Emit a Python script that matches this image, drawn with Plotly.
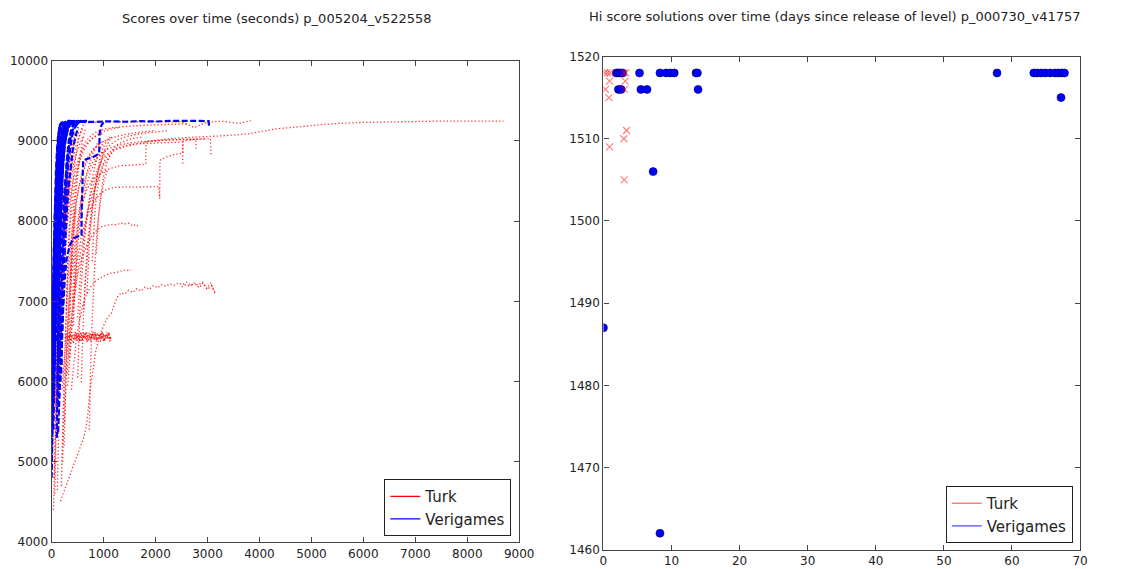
import plotly.graph_objects as go

# ---------------- Left panel: score trajectories (seconds) ----------------
turk_times = [
    [310, 360, 420, 500, 600, 700, 850, 1000, 1200, 1500, 1900, 2300, 2800, 3300, 3800, 4300, 4800, 5400, 6000, 6700, 7400, 8000, 8700],
    [170, 220, 290, 370, 450, 530, 610, 660, 700, 740, 790, 850, 920, 1000, 1070, 1146, 1200, 1260, 1339, 1400, 1480, 1560, 1640, 1720, 1800, 1880, 1960, 2040, 2120, 2200, 2280, 2360, 2440, 2520, 2600, 2680, 2760, 2840, 2920, 3000, 3080, 3140],
    [2500, 2580, 2660, 2740, 2820, 2900, 2980, 3060, 3140],
    [200, 230, 260, 280, 310, 340, 370, 400, 430, 460, 490, 520, 550, 580, 610, 640, 670, 700, 730, 760, 790, 820, 850, 880, 910, 940, 970, 1000, 1030, 1060, 1090, 1120, 1140],
    [290, 325, 355, 385, 415, 445, 475, 505, 535, 565, 595, 625, 655, 685, 715, 745, 775, 805, 835, 865, 895, 925, 955, 985, 1015, 1045, 1075, 1105, 1135],
    [420, 440, 460, 480, 500, 520, 540, 560, 580, 600, 620, 640, 660, 680, 700, 720, 740, 760, 780, 800, 820, 840, 860, 880, 900, 920, 940, 960, 980, 1000, 1020, 1040, 1060, 1080, 1100, 1120, 1140],
    [35, 45, 55, 65, 80, 95, 110, 130, 150, 175, 200, 230, 260, 300, 350, 410],
    [60, 70, 85, 100, 120, 140, 165, 190, 220, 250, 290, 340],
    [110, 120, 130, 145, 160, 180, 205, 235, 270, 310, 360, 420, 500, 600],
    [20, 30, 45, 60, 80, 105, 135, 170, 210, 260],
    [190, 200, 215, 230, 250, 270, 300, 340, 390, 450, 520, 600, 700, 820, 950],
    [240, 255, 275, 300, 330, 365, 405, 450, 500, 560, 630, 710, 800, 900],
    [500, 510, 525, 545, 570, 600, 640, 690, 750, 820, 900, 1000],
    [570, 580, 595, 615, 640, 670, 710, 760, 820, 890, 970, 1060, 1160],
    [725, 735, 750, 770, 795, 825, 860, 900, 950, 1010, 1080],
    [300, 340, 390, 450, 520, 600, 690, 780, 870, 960, 1060, 1160, 1260, 1330, 1400, 1480, 1560, 1620, 1680],
    [380, 420, 470, 530, 600, 680, 770, 860, 950, 1040, 1130, 1220, 1300, 1375, 1450, 1530],
    [350, 390, 440, 500, 570, 650, 740, 840, 950, 1070, 1200, 1290, 1450, 1600, 1750, 1900, 2063, 2080, 2085, 2200, 2350, 2525, 2530, 2650, 2800, 2950],
    [450, 500, 570, 650, 750, 870, 1000, 1150, 1300, 1500, 1700, 1900, 2100, 2300, 2500, 2700, 2900, 3060, 3064],
    [400, 440, 500, 580, 680, 800, 950, 1100, 1300, 1500, 1700, 1811, 1815, 2000, 2200, 2400, 2600, 2775, 2778],
    [260, 290, 330, 380, 440, 510, 590, 630, 800, 1000, 1300, 1600, 1900, 2200, 2500, 2745, 3000, 3300, 3600, 3830],
    [500, 560, 640, 740, 860, 1000, 1200, 1400, 1600, 1800, 2000, 2200, 2400, 2520, 2525],
    [150, 170, 195, 225, 260, 300, 350, 410, 480, 560, 650, 750, 860, 980],
    [280, 300, 325, 355, 390, 430, 480, 540, 610, 690, 780, 880, 1000, 1150, 1300],
    [330, 345, 365, 390, 420, 455, 495, 540, 590, 650],
    [420, 435, 455, 480, 510, 545, 585, 630, 680, 740, 810, 900, 1000],
    [620, 640, 665, 695, 730, 770, 815, 865, 920, 980, 1050, 1130],
    [60, 75, 95, 120, 150, 185, 225, 270, 320, 380, 450],
    [90, 100, 115, 135, 160, 190, 225, 265, 310],
    [210, 225, 245, 270, 300, 335, 375, 420, 470],
    [50, 60, 70, 85, 100, 120, 145],
    [780, 800, 830, 870, 920, 980, 1050, 1120],
    [130, 140, 152, 168, 188, 212, 240, 272, 308, 350, 400, 460, 530],
    [250, 262, 278, 298, 322, 350, 382, 420, 465, 520, 590, 680, 800, 950, 1150, 1400, 1700, 2000],
    [680, 700, 725, 755, 790, 830, 875, 925, 980, 1040, 1110, 1200, 1320, 1480, 1700, 1950, 2250],
    [860, 880, 905, 935, 970, 1010, 1060, 1120, 1190, 1280, 1400, 1550, 1750],
    [160, 175, 195, 220, 250, 285, 325, 370, 420, 475, 535, 600],
    [75, 85, 98, 115, 135, 160, 190, 225, 265],
    [360, 375, 395, 420, 450, 485, 525, 570, 620, 680, 750, 830, 920, 1020, 1150, 1300, 1500, 1750, 2000, 2300, 2600],
]
turk_scores = [
    [5950, 6400, 6900, 7400, 7800, 8150, 8450, 8700, 8880, 8950, 9000, 9030, 9050, 9065, 9090, 9150, 9180, 9215, 9232, 9243, 9247, 9248, 9248],
    [4510, 4600, 4730, 4880, 5020, 5160, 5290, 5420, 5620, 5900, 6150, 6380, 6560, 6700, 6790, 6851, 6950, 7050, 7106, 7090, 7140, 7110, 7160, 7130, 7180, 7150, 7200, 7170, 7210, 7190, 7220, 7200, 7230, 7210, 7240, 7200, 7220, 7170, 7230, 7150, 7200, 7120],
    [7180, 7210, 7190, 7230, 7200, 7240, 7160, 7230, 7100],
    [5900, 6200, 6450, 6580, 6520, 6610, 6500, 6590, 6530, 6620, 6510, 6600, 6540, 6500, 6610, 6560, 6620, 6500, 6580, 6530, 6610, 6520, 6600, 6510, 6590, 6540, 6620, 6500, 6580, 6530, 6610, 6520, 6560],
    [6600, 6510, 6590, 6560, 6500, 6620, 6540, 6580, 6500, 6610, 6530, 6600, 6520, 6560, 6610, 6500, 6590, 6540, 6620, 6510, 6570, 6600, 6530, 6610, 6500, 6590, 6550, 6620, 6510],
    [6480, 6560, 6520, 6610, 6540, 6590, 6500, 6620, 6550, 6510, 6600, 6530, 6620, 6490, 6580, 6540, 6610, 6500, 6570, 6620, 6520, 6590, 6500, 6610, 6540, 6580, 6500, 6620, 6530, 6600, 6510, 6570, 6620, 6540, 6590, 6500, 6550],
    [4400, 4700, 5000, 5300, 5600, 5900, 6200, 6500, 6800, 7100, 7400, 7700, 8000, 8300, 8600, 8850],
    [4600, 5000, 5400, 5800, 6200, 6600, 7000, 7350, 7700, 8000, 8300, 8550],
    [4650, 5000, 5400, 5800, 6200, 6600, 7000, 7400, 7800, 8150, 8450, 8700, 8900, 9050],
    [5000, 5500, 6000, 6400, 6800, 7200, 7600, 7950, 8250, 8500],
    [4700, 5100, 5500, 5900, 6300, 6700, 7100, 7500, 7850, 8150, 8400, 8600, 8780, 8900, 8980],
    [5200, 5600, 6000, 6400, 6800, 7150, 7450, 7750, 8000, 8250, 8480, 8680, 8850, 9000],
    [6050, 6300, 6600, 6900, 7200, 7500, 7800, 8100, 8400, 8650, 8850, 9000],
    [5990, 6250, 6550, 6850, 7150, 7450, 7750, 8050, 8350, 8600, 8800, 8950, 9050],
    [5400, 5800, 6200, 6600, 7000, 7400, 7750, 8050, 8300, 8500, 8650],
    [6100, 6500, 6850, 7150, 7400, 7580, 7720, 7820, 7890, 7930, 7950, 7960, 7955, 7980, 7965, 7975, 7940, 7960, 7930],
    [5900, 6200, 6500, 6750, 6950, 7100, 7200, 7260, 7300, 7330, 7350, 7360, 7370, 7390, 7385, 7395],
    [6300, 6800, 7200, 7550, 7800, 8000, 8150, 8270, 8350, 8400, 8420, 8425, 8428, 8425, 8430, 8428, 8432, 8280, 8760, 8800, 8830, 8850, 9000, 9015, 9020, 9025],
    [7200, 7700, 8100, 8400, 8620, 8780, 8870, 8920, 8950, 8975, 8990, 9000, 9010, 9015, 9020, 9025, 9030, 9030, 8835],
    [7000, 7500, 7900, 8200, 8400, 8530, 8600, 8650, 8690, 8700, 8710, 8711, 8996, 9005, 9010, 9015, 9018, 9020, 8900],
    [6500, 7200, 7800, 8300, 8700, 9000, 9180, 9225, 9235, 9238, 9240, 9236, 9242, 9240, 9238, 9168, 9236, 9245, 9218, 9255],
    [6800, 7400, 7900, 8300, 8600, 8800, 8900, 8940, 8960, 8970, 8975, 8980, 8985, 8985, 8700],
    [6000, 6400, 6800, 7200, 7600, 7950, 8250, 8500, 8700, 8850, 8950, 9020, 9060, 9090],
    [6900, 7300, 7650, 7950, 8200, 8420, 8600, 8750, 8870, 8960, 9030, 9080, 9120, 9150, 9170],
    [6300, 6700, 7100, 7500, 7900, 8250, 8550, 8800, 9000, 9150],
    [6700, 7050, 7400, 7700, 7950, 8150, 8320, 8460, 8580, 8680, 8760, 8820, 8860],
    [6900, 7200, 7500, 7750, 7950, 8150, 8350, 8550, 8750, 8900, 9000, 9050],
    [5600, 6000, 6400, 6800, 7200, 7600, 8000, 8350, 8650, 8900, 9100],
    [5300, 5700, 6100, 6500, 6900, 7300, 7700, 8050, 8350],
    [5000, 5400, 5800, 6200, 6600, 7000, 7400, 7800, 8150],
    [4800, 5100, 5400, 5700, 6000, 6300, 6600],
    [7500, 7800, 8100, 8350, 8550, 8700, 8800, 8850],
    [5800, 6150, 6500, 6850, 7200, 7550, 7900, 8200, 8480, 8720, 8900, 9030, 9120],
    [5500, 5850, 6200, 6550, 6900, 7250, 7600, 7900, 8180, 8420, 8620, 8780, 8900, 8980, 9040, 9080, 9110, 9130],
    [7100, 7400, 7700, 7950, 8180, 8380, 8550, 8690, 8800, 8880, 8940, 8990, 9030, 9060, 9090, 9110, 9130],
    [7600, 7850, 8080, 8280, 8450, 8600, 8720, 8820, 8900, 8960, 9000, 9030, 9050],
    [6500, 6850, 7200, 7550, 7850, 8150, 8400, 8620, 8800, 8950, 9070, 9160],
    [5700, 6100, 6500, 6900, 7300, 7650, 7950, 8250, 8500],
    [7300, 7600, 7900, 8150, 8380, 8580, 8740, 8860, 8950, 9010, 9060, 9100, 9130, 9150, 9165, 9175, 9185, 9195, 9200, 9210, 9215],
]

veri_times = [
    [0, 10, 22, 35, 50, 65, 85, 105, 130, 160, 200, 250, 320, 400, 500, 620],
    [5, 12, 20, 30, 42, 56, 72, 90, 110, 135, 165, 200],
    [0, 5, 12, 20, 30, 40, 52, 66, 82, 100, 122, 150, 185, 230],
    [15, 25, 40, 55, 75, 100, 130, 165, 205, 250, 300, 360],
    [30, 38, 48, 60, 75, 92, 112, 135, 160, 190],
    [0, 8, 18, 30, 45, 62, 82, 105, 130, 158, 190, 228, 272, 322, 380, 450],
    [60, 75, 90, 108, 128, 150, 175, 205, 240, 280, 330, 390, 460, 540, 620, 680],
    [124, 135, 150, 165, 180, 188, 200, 215, 235, 260, 290, 330, 380, 440],
    [100, 105, 112, 120, 130, 142, 158, 178, 200, 225, 255, 290],
    [0, 15, 35, 60, 95, 135, 180, 240, 320, 420, 560, 800, 1100, 1400, 1700, 2000, 2300, 2600, 2850, 3020, 3030],
    [140, 170, 210, 250, 283, 350, 420, 500, 575, 580, 590, 607, 650, 725, 800, 880, 915, 925, 960, 1000],
    [20, 28, 38, 50, 64, 80, 98, 118, 140, 164, 195],
    [0, 6, 14, 24, 36, 50, 66, 84],
    [40, 48, 58, 70, 85, 102, 122, 146, 174, 206, 244, 290],
    [80, 90, 102, 116, 132, 150, 172, 198, 228, 262, 300, 345, 395, 450],
    [0, 4, 9, 16, 25, 36],
    [170, 180, 190, 200, 215, 235, 260, 290, 330, 380, 440],
    [110, 118, 128, 140, 155, 172, 192, 216, 244, 276, 312, 352, 400, 460, 530],
    [50, 56, 64, 74, 86, 100, 116, 134, 154, 176, 200, 228, 260, 300],
    [2, 8, 16, 26, 38, 52, 68, 86, 106, 128, 152, 180, 212],
    [10, 16, 24, 34, 46, 60, 76, 94, 114, 136, 160, 186, 214, 246, 282],
    [25, 32, 41, 52, 65, 80, 97, 116, 137, 160, 185, 212, 242, 276, 314, 356],
    [45, 52, 61, 72, 85, 100, 117, 136, 157, 180, 206, 234, 266, 302, 342, 388, 440, 500, 570],
    [70, 78, 88, 100, 114, 130, 148, 168, 190, 214, 240, 270, 304, 342, 384],
    [90, 98, 108, 120, 134, 150, 168, 188, 210, 234, 262, 294, 330],
    [0, 3, 7, 12, 18, 26, 35, 46, 58, 72, 88, 106, 126, 148],
    [130, 138, 148, 160, 174, 190, 208, 228, 252, 280, 312, 350, 395, 450, 510, 580, 650],
    [35, 42, 51, 62, 75, 90, 107, 126, 148, 172, 198, 226, 256],
    [150, 158, 168, 180, 194, 210, 228, 250, 276, 306, 340],
    [160, 172, 186, 202, 220, 240, 262, 288, 318, 352, 392, 440, 500, 570, 640],
    [185, 196, 210, 226, 245, 268, 295, 326, 362, 404, 452, 510],
    [120, 128, 138, 150, 164, 180, 198, 220, 245, 275, 310, 350, 400, 460, 540, 620, 680],
]
veri_scores = [
    [5200, 5700, 6200, 6700, 7100, 7500, 7900, 8250, 8550, 8800, 9000, 9120, 9190, 9225, 9240, 9245],
    [6000, 6400, 6800, 7200, 7600, 8000, 8350, 8650, 8900, 9080, 9180, 9230],
    [5600, 6000, 6400, 6800, 7200, 7600, 8000, 8300, 8600, 8850, 9050, 9170, 9220, 9240],
    [6200, 6600, 7000, 7400, 7800, 8200, 8550, 8850, 9050, 9170, 9220, 9240],
    [6600, 7000, 7400, 7800, 8200, 8600, 8900, 9100, 9200, 9240],
    [4900, 5300, 5800, 6300, 6800, 7300, 7750, 8150, 8500, 8780, 8980, 9120, 9200, 9230, 9245, 9250],
    [6200, 6700, 7200, 7600, 8000, 8350, 8650, 8880, 9040, 9140, 9200, 9225, 9235, 9240, 9245, 9248],
    [5366, 5600, 5850, 6050, 6200, 6236, 6600, 7000, 7500, 8000, 8500, 8900, 9150, 9240],
    [5300, 5700, 6100, 6500, 6900, 7300, 7700, 8100, 8500, 8850, 9100, 9230],
    [6300, 6800, 7300, 7800, 8250, 8650, 8950, 9120, 9200, 9230, 9240, 9238, 9245, 9240, 9248, 9243, 9250, 9245, 9250, 9248, 9190],
    [5900, 6300, 6800, 7250, 7516, 7700, 7789, 7810, 7826, 8200, 8509, 8758, 8770, 8782, 8800, 8830, 8845, 9100, 9200, 9230],
    [5700, 6100, 6500, 6900, 7300, 7700, 8100, 8500, 8850, 9150, 9240],
    [5100, 5500, 5900, 6300, 6700, 7100, 7500, 7900],
    [5800, 6200, 6600, 7000, 7400, 7800, 8200, 8550, 8850, 9050, 9180, 9235],
    [6500, 6850, 7200, 7550, 7900, 8250, 8550, 8800, 9000, 9120, 9190, 9225, 9240, 9250],
    [5000, 5400, 5800, 6200, 6600, 7000],
    [6000, 6400, 6800, 7200, 7600, 8000, 8400, 8750, 9000, 9150, 9230],
    [6000, 6400, 6800, 7200, 7600, 8000, 8350, 8650, 8880, 9040, 9140, 9200, 9230, 9245, 9250],
    [5900, 6300, 6700, 7100, 7500, 7900, 8250, 8550, 8800, 9000, 9130, 9200, 9235, 9250],
    [5500, 5900, 6300, 6700, 7100, 7500, 7900, 8250, 8550, 8800, 9000, 9150, 9230],
    [5800, 6150, 6500, 6850, 7200, 7550, 7880, 8180, 8460, 8700, 8900, 9050, 9150, 9210, 9240],
    [6100, 6450, 6800, 7150, 7500, 7850, 8170, 8460, 8720, 8930, 9080, 9170, 9220, 9240, 9250, 9250],
    [6400, 6700, 7000, 7300, 7600, 7900, 8180, 8440, 8670, 8860, 9010, 9120, 9190, 9225, 9240, 9248, 9250, 9245, 9250],
    [6800, 7100, 7400, 7700, 8000, 8280, 8540, 8760, 8940, 9070, 9160, 9210, 9235, 9245, 9250],
    [7000, 7300, 7600, 7900, 8180, 8440, 8670, 8860, 9010, 9120, 9190, 9230, 9245],
    [4800, 5100, 5450, 5800, 6150, 6500, 6850, 7200, 7550, 7900, 8250, 8580, 8880, 9100],
    [6900, 7200, 7500, 7800, 8080, 8340, 8580, 8790, 8960, 9080, 9160, 9200, 9225, 9235, 9240, 9245, 9250],
    [5400, 5800, 6200, 6600, 7000, 7400, 7800, 8150, 8480, 8760, 8990, 9150, 9235],
    [7400, 7700, 7980, 8240, 8480, 8690, 8870, 9010, 9120, 9190, 9230],
    [6300, 6650, 7000, 7350, 7680, 7990, 8270, 8520, 8740, 8920, 9060, 9160, 9220, 9245, 9250],
    [6100, 6480, 6850, 7200, 7540, 7860, 8150, 8420, 8660, 8870, 9040, 9170],
    [5700, 6050, 6400, 6750, 7100, 7450, 7780, 8090, 8370, 8620, 8840, 9010, 9130, 9200, 9235, 9248, 9250],
]

# ---------------- Right panel: hi-score solutions (days) ----------------
turk_days = [0.2, 0.6, 1.0, 3.0, 3.3, 0.9, 3.2, 0.3, 3.1, 0.8, 3.4, 3.0, 0.9, 3.05]
turk_hi = [1518, 1518, 1518, 1518, 1518, 1517, 1517, 1516, 1516, 1515, 1511, 1510, 1509, 1505]

veri_days = [1.9, 2.2, 2.5, 2.8, 5.3, 8.3, 9.2, 9.8, 10.4, 13.6, 13.8,
             2.2, 2.6, 5.5, 6.4, 13.9,
             7.3, 0.0, 8.3,
             57.8, 63.2, 63.7, 64.3, 64.9, 65.6, 66.3, 66.8, 67.3, 67.7,
             67.2]
veri_hi = [1518, 1518, 1518, 1518, 1518, 1518, 1518, 1518, 1518, 1518, 1518,
           1516, 1516, 1516, 1516, 1516,
           1506, 1487, 1462,
           1518, 1518, 1518, 1518, 1518, 1518, 1518, 1518, 1518, 1518,
           1515]

titles = ["Scores over time (seconds) p_005204_v522558",
          "Hi score solutions over time (days since release of level) p_000730_v41757"]

RED = "rgba(255,0,0,0.8)"
BLUE = "rgb(0,0,255)"

fig = go.Figure()

for xs, ys in zip(turk_times, turk_scores):
    fig.add_trace(go.Scatter(x=xs, y=ys, mode="lines", xaxis="x", yaxis="y",
                             line=dict(color=RED, width=1.3, dash="1.3px,2.2px"),
                             showlegend=False, hoverinfo="skip"))
for xs, ys in zip(veri_times, veri_scores):
    fig.add_trace(go.Scatter(x=xs, y=ys, mode="lines", xaxis="x", yaxis="y",
                             line=dict(color=BLUE, width=2.2, dash="6px,2.5px"),
                             showlegend=False, hoverinfo="skip"))

# legend entries (left)
fig.add_trace(go.Scatter(x=[None], y=[None], mode="lines", name="Turk", xaxis="x", yaxis="y",
                         line=dict(color="red", width=1.2), legend="legend"))
fig.add_trace(go.Scatter(x=[None], y=[None], mode="lines", name="Verigames", xaxis="x", yaxis="y",
                         line=dict(color="blue", width=1.2), legend="legend"))

# right panel
fig.add_trace(go.Scatter(x=veri_days, y=veri_hi, mode="markers", xaxis="x2", yaxis="y2",
                         marker=dict(symbol="circle", size=8, color="blue",
                                     line=dict(color="#000066", width=0.6)),
                         showlegend=False, hoverinfo="skip"))
fig.add_trace(go.Scatter(x=turk_days, y=turk_hi, mode="markers", xaxis="x2", yaxis="y2",
                         marker=dict(symbol="x-thin", size=7, color="rgba(255,0,0,0.5)",
                                     line=dict(color="rgba(255,0,0,0.5)", width=1.2)),
                         showlegend=False, hoverinfo="skip"))
fig.add_trace(go.Scatter(x=[None], y=[None], mode="lines", name="Turk", xaxis="x2", yaxis="y2",
                         line=dict(color="rgba(255,0,0,0.5)", width=1.5), legend="legend2"))
fig.add_trace(go.Scatter(x=[None], y=[None], mode="lines", name="Verigames", xaxis="x2", yaxis="y2",
                         line=dict(color="rgba(0,0,255,0.7)", width=1.2), legend="legend2"))

axis_common = dict(showgrid=False, zeroline=False, showline=True, linecolor="#444", linewidth=1.3,
                   mirror="allticks", ticks="inside", ticklen=5, tickcolor="#444", tickwidth=1,
                   tickformat="d",
                   tickfont=dict(family="DejaVu Sans", size=12, color="#222"))

legend_common = dict(xanchor="right", yanchor="bottom", bordercolor="#222", borderwidth=1,
                     bgcolor="white", font=dict(family="DejaVu Sans", size=15, color="#222"),
                     tracegroupgap=0, itemwidth=30)

fig.update_layout(
    width=1127, height=569,
    margin=dict(l=0, r=0, t=0, b=0),
    paper_bgcolor="white", plot_bgcolor="white",
    font=dict(family="DejaVu Sans", color="#222"),
    xaxis=dict(domain=[0.0430, 0.4650], range=[0, 9000], tickvals=list(range(0, 9001, 1000)),
               anchor="y", **axis_common),
    yaxis=dict(domain=[0.0359, 0.9031], range=[4000, 10000],
               tickvals=list(range(4000, 10001, 1000)), anchor="x", **axis_common),
    xaxis2=dict(domain=[0.5410, 0.9712], range=[0, 70], tickvals=list(range(0, 71, 10)),
                anchor="y2", **axis_common),
    yaxis2=dict(domain=[0.0221, 0.9108], range=[1460, 1520],
                tickvals=list(range(1460, 1521, 10)), anchor="x2", **axis_common),
    legend=dict(x=0.4579, y=0.0467, **legend_common),
    legend2=dict(x=0.9646, y=0.0341, **legend_common),
    annotations=[
        dict(text=titles[0], x=0.2467, y=0.9785, xref="paper", yref="paper",
             xanchor="center", yanchor="middle",
             showarrow=False, font=dict(family="DejaVu Sans", size=13, color="#222")),
        dict(text=titles[1], x=0.7499, y=0.9820, xref="paper", yref="paper",
             xanchor="center", yanchor="middle",
             showarrow=False, font=dict(family="DejaVu Sans", size=13, color="#222")),
    ],
)

fig.write_html("out.html")
